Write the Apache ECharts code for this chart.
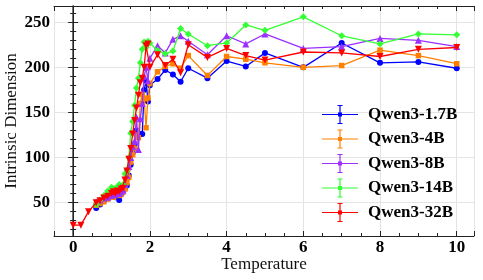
<!DOCTYPE html>
<html>
<head>
<meta charset="utf-8">
<script src="https://cdn.jsdelivr.net/npm/echarts@6/dist/echarts.min.js"></script>
<style>html,body{margin:0;padding:0;background:#fff}#c{width:483px;height:280px}</style>
</head>
<body>
<div id="c"></div>
<script>
// ---- data ----
const seriesNames = ['Qwen3-1.7B', 'Qwen3-4B', 'Qwen3-8B', 'Qwen3-14B', 'Qwen3-32B'];
const tempsDense = [0.6,0.7,0.8,0.9,1.0,1.05,1.1,1.15,1.2,1.25,1.3,1.35,1.4,1.45,1.5,1.55,1.6,1.65,1.7,1.75,1.8,1.85,1.9,1.95,2.0];
const tempsHigh = [2.2,2.4,2.6,2.8,3.0,3.5,4,4.5,5,6,7,8,9,10];
const tempsLowRed = [0, 0.2, 0.4];

const q17Dense = [44,48,52,55,57,58,56,57,53,60,62,66,69,80,92,105,115,130,125,126,126,175,185,162,180];
const q17High  = [187,197,192,184,199,188,207,201,216,200,227,205,206,199];

const q4Dense = [47,49,51,54,57,56,58,60,58,59,62,65,72,78,95,103,110,125,122,160,170,165,133,166,182];
const q4High  = [195,201,204,199,213,191,212,209,205,200,202,219,213,204];

const q8Dense = [51,53,55,56,58,60,59,61,60,62,64,70,80,90,100,112,118,145,109,143,160,190,200,185,210];
const q8High  = [224,216,231,235,229,214,235,226,237,221,223,232,230,223];

const q14Dense = [48,53,58,63,67,65,66,67,70,68,70,82,86,100,127,140,158,177,188,205,220,228,222,229,227];
const q14High  = [219,215,218,243,237,224,227,247,241,256,235,226,237,236];

const q32Low   = [25,25,40];
const q32Dense = [50,52,55,57,60,62,60,63,62,65,66,75,85,98,110,126,141,155,169,183,188,200,224,226,200];
const q32High  = [214,202,209,194,225,211,221,213,208,217,216,212,220,222];

const xTickLabels = ['0','2','4','6','8','10'];
const yTickLabels = ['50','100','150','200','250'];

// ---- build ----
function pairs(xs, ys){ return xs.map((x,i)=>[x, ys[i]]); }
const allX = tempsDense.concat(tempsHigh);
const seriesData = [
  pairs(allX, q17Dense.concat(q17High)),
  pairs(allX, q4Dense.concat(q4High)),
  pairs(allX, q8Dense.concat(q8High)),
  pairs(allX, q14Dense.concat(q14High)),
  pairs(tempsLowRed.concat(allX), q32Low.concat(q32Dense, q32High))
];
const colors = ['#0000ff', '#ff8000', '#9b30ff', '#33ff33', '#ff0000'];
const symbols = ['circle', 'rect', 'triangle', 'diamond', 'triangle'];
const symSizes = [6, 5.5, 7, 7, 7];
const symRot = [0, 0, 0, 0, 180];

const serif = "'Liberation Serif', 'Times New Roman', serif";
const iconPath = 'path://M0 8.9H36V10.1H0Z M17.4 0H18.6V19H17.4Z M15.5 0H20.5V1H15.5Z M15.5 18H20.5V19H15.5Z M16 7.5H20V11.5H16Z';
const tickRich = {b: {fontFamily: serif, fontWeight: 'bold', fontSize: 17, color: '#000'}};

const frameLine = {show: true, lineStyle: {color: '#222', width: 1}};
const chart = echarts.init(document.getElementById('c'), null, {renderer: 'canvas'});
chart.setOption({
  animation: false,
  backgroundColor: '#fff',
  grid: {left: 54, right: 9, top: 6, bottom: 44, containLabel: false, outerBoundsMode: 'none'},
  xAxis: [{
    type: 'value', min: -0.5, max: 10.45, splitNumber: 5,
    name: 'Temperature', nameLocation: 'middle', nameGap: 20, nameMoveOverlap: false,
    nameTextStyle: {fontFamily: serif, fontSize: 17, color: '#111'},
    axisLine: frameLine,
    axisTick: {show: true, inside: true, length: 5, lineStyle: {color: '#222'}},
    minorTick: {show: true, splitNumber: 4, length: 3, lineStyle: {color: '#222'}},
    axisLabel: {fontFamily: serif, fontWeight: 'bold', fontSize: 17, color: '#000', margin: 3,
      showMinLabel: false, showMaxLabel: false, rich: tickRich,
      formatter: v => { const s = String(v); return xTickLabels.includes(s) ? '{b|' + s + '}' : ''; }},
    splitLine: {show: true, lineStyle: {color: '#e4e4e4', width: 1}}
  }, {
    type: 'value', min: -0.5, max: 10.45, splitNumber: 5, position: 'top',
    axisLine: frameLine,
    axisTick: {show: true, inside: true, length: 5, lineStyle: {color: '#222'}},
    minorTick: {show: true, splitNumber: 4, length: 3, lineStyle: {color: '#222'}},
    axisLabel: {show: false}, splitLine: {show: false}
  }],
  yAxis: [{
    type: 'value', min: 13, max: 268, splitNumber: 5,
    name: 'Intrinsic Dimension', nameLocation: 'middle', nameGap: 34, nameRotate: 90, nameMoveOverlap: false,
    nameTextStyle: {fontFamily: serif, fontSize: 17, color: '#111'},
    axisLine: {show: true, lineStyle: {color: '#444', width: 1.5}},
    axisTick: {show: true, inside: true, length: 5, lineStyle: {color: '#222'}},
    minorTick: {show: true, splitNumber: 5, length: 3, lineStyle: {color: '#222'}},
    axisLabel: {fontFamily: serif, fontWeight: 'bold', fontSize: 17, color: '#000', margin: 4,
      showMinLabel: false, showMaxLabel: false, rich: tickRich,
      formatter: v => { const s = String(v); return yTickLabels.includes(s) ? '{b|' + s + '}' : ''; }},
    splitLine: {show: true, lineStyle: {color: '#e4e4e4', width: 1}}
  }, {
    type: 'value', min: 13, max: 268, splitNumber: 5, position: 'right',
    axisLine: frameLine,
    axisTick: {show: true, inside: true, length: 5, lineStyle: {color: '#222'}},
    minorTick: {show: true, splitNumber: 5, length: 3, lineStyle: {color: '#222'}},
    axisLabel: {show: false}, splitLine: {show: false}
  }],
  legend: {
    orient: 'vertical', left: 317, top: 100, itemGap: 5.5,
    itemWidth: 36, itemHeight: 19,
    textStyle: {fontFamily: serif, fontWeight: 'bold', fontSize: 17, color: '#000', padding: [0,0,0,5]},
    data: seriesNames.map(n => ({name: n, icon: iconPath}))
  },
  series: seriesNames.map((n, i) => ({
    name: n, type: 'line', xAxisIndex: 0, yAxisIndex: 0,
    data: seriesData[i],
    symbol: symbols[i], symbolSize: symSizes[i], symbolRotate: symRot[i],
    showAllSymbol: true,
    itemStyle: {color: colors[i]},
    lineStyle: {color: colors[i], width: 1.3},
    z: 2 + i
  }))
});
</script>
</body>
</html>
